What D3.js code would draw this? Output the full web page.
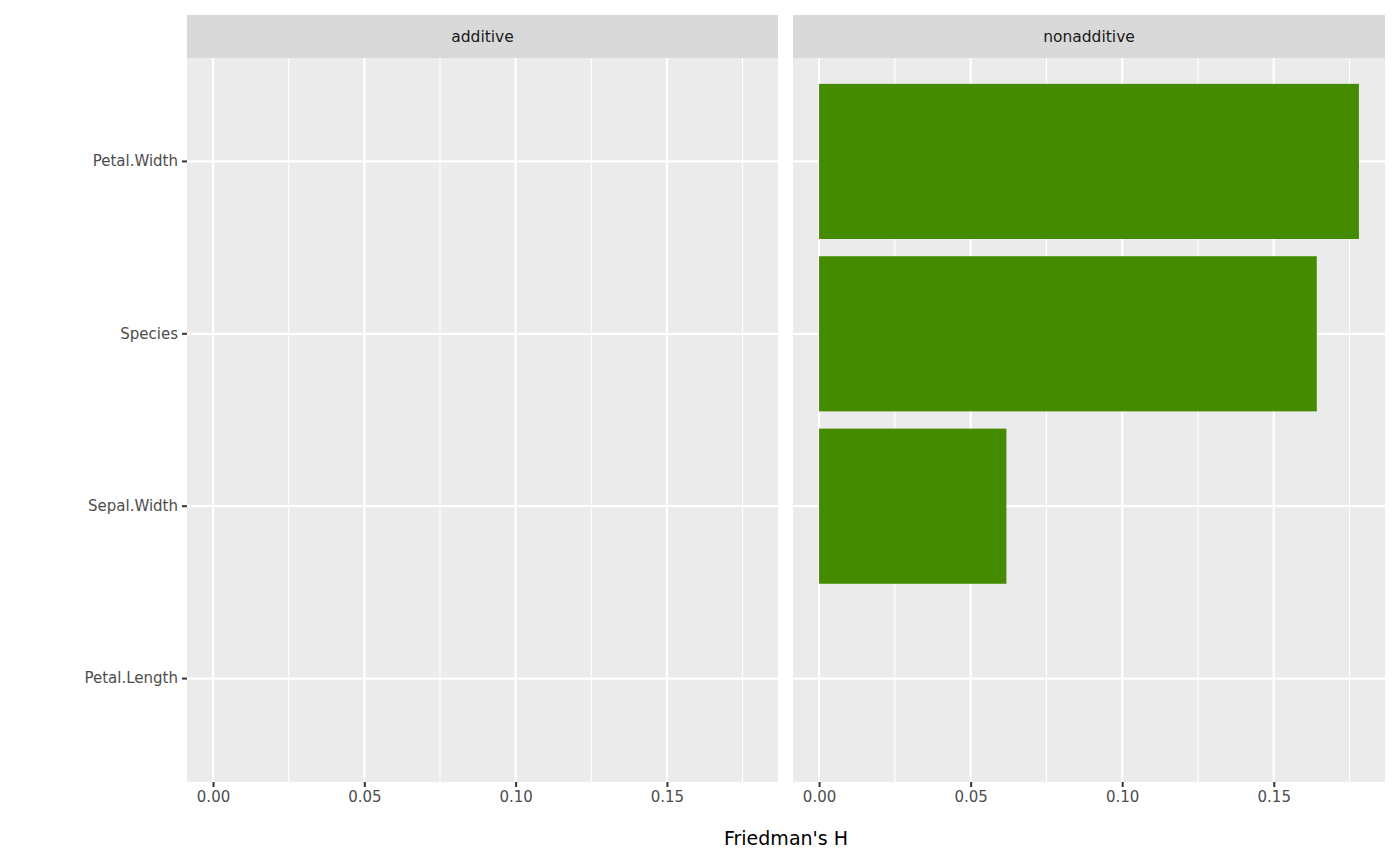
<!DOCTYPE html>
<html><head><meta charset="utf-8">
<script src="https://cdn.jsdelivr.net/npm/d3@7"></script>
<style>body{margin:0;background:#fff;font-family:"DejaVu Sans",sans-serif;}</style>
</head><body>
<svg id="chart" width="1400" height="866"></svg>
<script>
const features = ["Petal.Width", "Species", "Sepal.Width", "Petal.Length"];
const panels = ["additive", "nonadditive"];
const additiveH = [0, 0, 0, 0];
const nonadditiveH = [0.1781, 0.1642, 0.0618, 0];
const ticks = [0, 0.05, 0.10, 0.15];
const tickLabels = ["0.00", "0.05", "0.10", "0.15"];
const values = { additive: additiveH, nonadditive: nonadditiveH };

const svg = d3.select("#chart");
const plotTop = 58, plotBottom = 782, stripTop = 15;
const panelX = [[187, 778], [793, 1385]];

const y = d3.scaleBand().domain(features).range([plotTop, plotBottom]).paddingInner(0.1).paddingOuter(0.15);

panels.forEach((p, i) => {
    const [x0, x1] = panelX[i];
    const x = d3.scaleLinear().domain([-0.0086, 0.1867]).range([x0, x1]);
    const g = svg.append("g");
    g.append("rect").attr("x", x0).attr("y", plotTop).attr("width", x1 - x0).attr("height", plotBottom - plotTop).attr("fill", "#EBEBEB");
    g.append("rect").attr("x", x0).attr("y", stripTop).attr("width", x1 - x0).attr("height", plotTop - stripTop).attr("fill", "#D9D9D9");
    g.append("text").attr("x", (x0 + x1) / 2).attr("y", (stripTop + plotTop) / 2).attr("dy", "0.35em")
        .attr("text-anchor", "middle").attr("font-size", 15.5).attr("fill", "#1A1A1A").text(p);
    // minor grid
    [0.025, 0.075, 0.125, 0.175].forEach(v => {
        g.append("line").attr("x1", x(v)).attr("x2", x(v)).attr("y1", plotTop).attr("y2", plotBottom).attr("stroke", "#fff").attr("stroke-width", 1.1);
    });
    ticks.forEach(v => {
        g.append("line").attr("x1", x(v)).attr("x2", x(v)).attr("y1", plotTop).attr("y2", plotBottom).attr("stroke", "#fff").attr("stroke-width", 2.2);
    });
    features.forEach(f => {
        const cy = y(f) + y.bandwidth() / 2;
        g.append("line").attr("x1", x0).attr("x2", x1).attr("y1", cy).attr("y2", cy).attr("stroke", "#fff").attr("stroke-width", 2.2);
    });
    g.selectAll("rect.bar").data(features.map((f, j) => ({ f, v: values[p][j] })).filter(d => d.v > 0))
        .join("rect").attr("class", "bar")
        .attr("x", x(0)).attr("y", d => y(d.f)).attr("width", d => x(d.v) - x(0)).attr("height", y.bandwidth())
        .attr("fill", "#458B00");
    // x axis
    const ax = g.append("g").attr("transform", `translate(0,${plotBottom})`)
        .call(d3.axisBottom(x).tickValues(ticks).tickFormat((d, k) => tickLabels[k]).tickSize(5).tickPadding(4));
    ax.select(".domain").remove();
    ax.selectAll("line").attr("stroke", "#333").attr("stroke-width", 2);
    ax.selectAll("text").attr("font-size", 15).attr("fill", "#4D4D4D").attr("font-family", "DejaVu Sans");
});

const ay = svg.append("g").attr("transform", `translate(${panelX[0][0]},0)`)
    .call(d3.axisLeft(y).tickSize(5).tickPadding(4));
ay.select(".domain").remove();
ay.selectAll("line").attr("stroke", "#333").attr("stroke-width", 2);
ay.selectAll("text").attr("font-size", 15).attr("fill", "#4D4D4D").attr("font-family", "DejaVu Sans");

svg.append("text").attr("x", (panelX[0][0] + panelX[1][1]) / 2).attr("y", 845)
    .attr("text-anchor", "middle").attr("font-size", 19).attr("fill", "#000").text("Friedman's H");
</script>
</body></html>
